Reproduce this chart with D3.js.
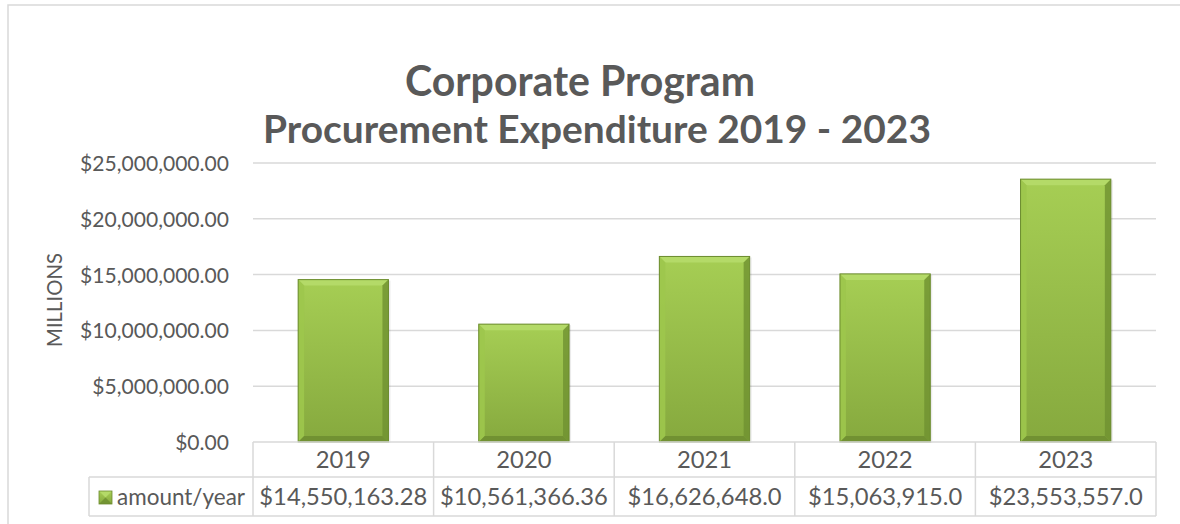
<!DOCTYPE html>
<html>
<head>
<meta charset="utf-8">
<script src="https://cdn.jsdelivr.net/npm/d3@7"></script>
<style>
  html, body { margin: 0; padding: 0; background: #fff; }
  svg { display: block; }
  text { font-family: Lato, "Open Sans", sans-serif; fill: #595959; }
</style>
</head>
<body>
<svg id="chart" width="1180" height="524"></svg>
<script>
// ---- data ----
const titleLines = ["Corporate Program", "Procurement Expenditure 2019 - 2023"];
const categories = ["2019", "2020", "2021", "2022", "2023"];
const values = [14550163.28, 10561366.36, 16626648.0, 15063915.0, 23553557.0];
const valueLabels = ["$14,550,163.28", "$10,561,366.36", "$16,626,648.0", "$15,063,915.0", "$23,553,557.0"];
const yTicks = [0, 5000000, 10000000, 15000000, 20000000, 25000000];
const seriesName = "amount/year";
const yAxisTitle = "MILLIONS";

// ---- layout ----
const svg = d3.select("#chart");
const plot = { left: 253, right: 1156, top: 163, bottom: 442 };
const tableRow1Bottom = 477, tableBottom = 516, legendLeft = 89;
const gridColor = "#d9d9d9";

const x = d3.scaleBand().domain(categories).range([plot.left, plot.right]).paddingInner(0).paddingOuter(0);
const y = d3.scaleLinear().domain([0, 25000000]).range([plot.bottom, plot.top]);

function fitSize(sel, targetW) {
  const n = sel.node();
  const fs = parseFloat(sel.attr("font-size"));
  const w = n.getComputedTextLength();
  sel.attr("font-size", (fs * targetW / w).toFixed(2));
}

// frame
svg.append("rect").attr("x", 8).attr("y", 5).attr("width", 1200).attr("height", 600)
  .attr("fill", "none").attr("stroke", gridColor).attr("stroke-width", 1.5);

// defs
const defs = svg.append("defs");
const g1 = defs.append("linearGradient").attr("id", "barGrad").attr("x1", 0).attr("y1", 0).attr("x2", 0).attr("y2", 1);
g1.append("stop").attr("offset", "0%").attr("stop-color", "#a6ce54");
g1.append("stop").attr("offset", "100%").attr("stop-color", "#86a93e");

// gridlines
const yAxis = d3.axisLeft(y).tickValues(yTicks).tickSize(0).tickPadding(24)
  .tickFormat(d => "$" + d3.format(",.2f")(d));
svg.append("g").selectAll("line").data(yTicks.filter(d => d > 0)).join("line")
  .attr("x1", plot.left).attr("x2", plot.right)
  .attr("y1", d => y(d)).attr("y2", d => y(d))
  .attr("stroke", gridColor).attr("stroke-width", 1.5);

// y axis labels
const gy = svg.append("g").attr("transform", `translate(${plot.left},0)`).call(yAxis);
gy.select(".domain").remove();
gy.selectAll("text").attr("font-size", 20).attr("fill", "#595959")
  .style("font-family", "Lato, 'Open Sans', sans-serif");
{
  const t = gy.selectAll("text").filter(d => d === 25000000);
  const w = t.node().getComputedTextLength();
  gy.selectAll("text").attr("font-size", (20 * 149 / w).toFixed(2)).attr("dy", "0.36em");
}

// y axis title
const yt = svg.append("text").attr("transform", "translate(62,300) rotate(-90)")
  .attr("text-anchor", "middle").attr("font-size", 17).text(yAxisTitle);
fitSize(yt, 94);

// bars with bevel
const barW = x.bandwidth() * 0.5;
const bev = 6;
const gBars = svg.append("g");
categories.forEach((c, i) => {
  const v = values[i];
  const x0 = x(c) + (x.bandwidth() - barW) / 2, x1 = x0 + barW;
  const y0 = y(v), y1 = y(0);
  const g = gBars.append("g");
  g.append("rect").attr("x", x0 + 2).attr("y", y0 + 1).attr("width", barW).attr("height", y1 - y0)
    .attr("fill", "#000").attr("opacity", 0.08);
  g.append("rect").attr("x", x0).attr("y", y0).attr("width", barW).attr("height", y1 - y0)
    .attr("fill", "url(#barGrad)");
  g.append("polygon").attr("points", [[x0, y0], [x1, y0], [x1 - bev, y0 + bev], [x0 + bev, y0 + bev]].join(" "))
    .attr("fill", "#b4da68");
  g.append("polygon").attr("points", [[x0, y0], [x0 + bev, y0 + bev], [x0 + bev, y1 - bev], [x0, y1]].join(" "))
    .attr("fill", "#9dc64c").attr("opacity", 0.9);
  g.append("polygon").attr("points", [[x1, y0], [x1, y1], [x1 - bev, y1 - bev], [x1 - bev, y0 + bev]].join(" "))
    .attr("fill", "#6f9131").attr("opacity", 0.8);
  g.append("polygon").attr("points", [[x0, y1], [x1, y1], [x1 - bev, y1 - bev], [x0 + bev, y1 - bev]].join(" "))
    .attr("fill", "#6d8d30").attr("opacity", 0.85);
  g.append("rect").attr("x", x0).attr("y", y0).attr("width", barW).attr("height", y1 - y0)
    .attr("fill", "none").attr("stroke", "#6b8b2e").attr("stroke-width", 1);
});

// data table
const gT = svg.append("g").attr("stroke", gridColor).attr("stroke-width", 1.5);
gT.append("line").attr("x1", plot.left).attr("x2", plot.right).attr("y1", plot.bottom).attr("y2", plot.bottom);
gT.append("line").attr("x1", legendLeft).attr("x2", plot.right).attr("y1", tableRow1Bottom).attr("y2", tableRow1Bottom);
gT.append("line").attr("x1", legendLeft).attr("x2", plot.right).attr("y1", tableBottom).attr("y2", tableBottom);
gT.append("line").attr("x1", legendLeft).attr("x2", legendLeft).attr("y1", tableRow1Bottom).attr("y2", tableBottom);
const edges = categories.map(c => x(c)).concat([plot.right]);
gT.selectAll("line.v").data(edges).join("line").attr("class", "v")
  .attr("x1", d => d).attr("x2", d => d).attr("y1", plot.bottom).attr("y2", tableBottom);

// value labels
const valText = svg.append("g").selectAll("text").data(valueLabels).join("text")
  .attr("x", (d, i) => x(categories[i]) + x.bandwidth() / 2).attr("y", (tableRow1Bottom + tableBottom) / 2)
  .attr("dy", "0.36em").attr("text-anchor", "middle").attr("font-size", 20).text(d => d);
let tableFs;
{
  const w = valText.node().getComputedTextLength();
  tableFs = (20 * 168 / w);
  valText.attr("font-size", tableFs.toFixed(2));
}
// category labels (same size as value labels)
svg.append("g").selectAll("text").data(categories).join("text")
  .attr("x", d => x(d) + x.bandwidth() / 2).attr("y", (plot.bottom + tableRow1Bottom) / 2)
  .attr("dy", "0.36em").attr("text-anchor", "middle").attr("font-size", tableFs.toFixed(2)).text(d => d);

// legend key + name
{
  const kx = 99, ky = 491, ks = 13;
  const k = svg.append("g");
  k.append("rect").attr("x", kx).attr("y", ky).attr("width", ks).attr("height", ks).attr("fill", "url(#barGrad)");
  k.append("polygon").attr("points", [[kx, ky], [kx + ks, ky], [kx + ks / 2, ky + ks / 2]].join(" ")).attr("fill", "#b4da68");
  k.append("polygon").attr("points", [[kx, ky + ks], [kx + ks, ky + ks], [kx + ks / 2, ky + ks / 2]].join(" ")).attr("fill", "#6d8d30").attr("opacity", 0.8);
  k.append("rect").attr("x", kx).attr("y", ky).attr("width", ks).attr("height", ks).attr("fill", "none").attr("stroke", "#6b8b2e").attr("stroke-width", 0.8);
  const lt = svg.append("text").attr("x", 117).attr("y", (tableRow1Bottom + tableBottom) / 2).attr("dy", "0.36em")
    .attr("font-size", 20).text(seriesName);
  fitSize(lt, 128);
}

// title
const t1 = svg.append("text").attr("x", 580).attr("y", 96).attr("text-anchor", "middle")
  .attr("font-size", 36).attr("font-weight", "bold").text(titleLines[0]);
const t2 = svg.append("text").attr("x", 597).attr("y", 143).attr("text-anchor", "middle")
  .attr("font-size", 36).attr("font-weight", "bold").text(titleLines[1]);
fitSize(t2, 668);
t1.attr("font-size", t2.attr("font-size"));
fitSize(t1, 350);
</script>
</body>
</html>
